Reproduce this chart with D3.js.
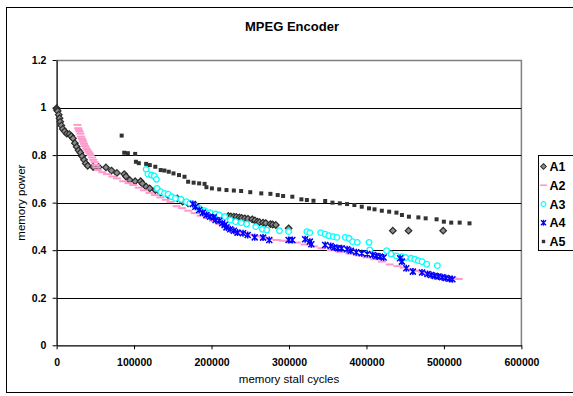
<!DOCTYPE html>
<html>
<head>
<meta charset="utf-8">
<script src="https://cdn.jsdelivr.net/npm/d3@7"></script>
<style>
  body { margin: 0; background: #fff; }
  svg { display: block; font-family: "Liberation Sans", Arial, sans-serif; }
</style>
</head>
<body>
<svg id="chart"></svg>
<script>
// series values: [memory stall cycles, memory power]
const seriesNames = ["A1", "A2", "A3", "A4", "A5"];

const a1 = [[0,0.997],[500,0.99],[1400,0.985],[2800,0.97],[3800,0.955],[4700,0.94],[6100,0.925],[8000,0.91],
  [10400,0.9],[13200,0.89],[16500,0.888],[18900,0.88],[21200,0.87],[23600,0.85],[25900,0.835],[28300,0.82],
  [30700,0.81],[33000,0.795],[35400,0.78],[37700,0.765],[40100,0.755],[47200,0.75],[54200,0.75],[63700,0.748],
  [70800,0.735],[77800,0.725],[87300,0.72],[89600,0.71],[94300,0.695],[101400,0.69],[108500,0.69],[110800,0.68],
  [115600,0.667],[120300,0.66],[127400,0.653],[134400,0.642],[143900,0.632],[155700,0.618],[162700,0.604],
  [169800,0.597],[179200,0.59],[184000,0.576],[221700,0.544],[225000,0.542],[228800,0.541],[232000,0.54],
  [235900,0.538],[239000,0.536],[242900,0.534],[247000,0.532],[252400,0.53],[256000,0.525],[259400,0.52],
  [262000,0.518],[266500,0.516],[270000,0.514],[276000,0.51],[279000,0.508],[283000,0.506],[299500,0.492],
  [434000,0.482],[454300,0.482],[499000,0.482]];

const a2 = [[26900,0.927],[27800,0.913],[28800,0.905],[29700,0.899],[30700,0.89],[31600,0.878],[32500,0.87],
  [33500,0.864],[34400,0.856],[35400,0.847],[36800,0.838],[38200,0.829],[39600,0.822],[41000,0.815],[42500,0.808],
  [43900,0.8],[45800,0.79],[47200,0.78],[49000,0.77],[50500,0.758],[51900,0.748],[53300,0.737],[59000,0.728],
  [65000,0.72],[72000,0.71],[78000,0.702],[86000,0.69],[93000,0.682],[99000,0.674],[106000,0.663],[113000,0.652],
  [120000,0.641],[127000,0.632],[134000,0.622],[141000,0.612],[147000,0.603],[155000,0.585],[162000,0.577],
  [170000,0.566],[178000,0.556],[186000,0.545],[194000,0.535],[202000,0.523],[210000,0.51],[218000,0.497],
  [226000,0.485],[234000,0.476],[242000,0.47],[250000,0.465],[258000,0.459],[266000,0.454],[275000,0.447],
  [284000,0.443],[292000,0.44],[300000,0.436],[310000,0.432],[320000,0.424],[332000,0.416],[342000,0.408],
  [354000,0.4],[366000,0.393],[378000,0.386],[390000,0.378],[400000,0.37],[410000,0.362],[420000,0.352],
  [430000,0.34],[440000,0.333],[448000,0.327],[456000,0.32],[464000,0.313],[472000,0.307],[480000,0.3],
  [488000,0.295],[496000,0.29],[504000,0.286],[512000,0.282],[519000,0.279]];

const a3 = [[115600,0.74],[117900,0.72],[122600,0.716],[126000,0.712],[128800,0.698],[129700,0.66],[134400,0.646],
  [139200,0.639],[143900,0.636],[148600,0.625],[153300,0.618],[160400,0.614],[167500,0.604],[172200,0.597],
  [179200,0.586],[184000,0.576],[191000,0.566],[198100,0.558],[205200,0.552],[209900,0.548],[217000,0.541],
  [224100,0.527],[231100,0.52],[238200,0.516],[245300,0.51],[257100,0.499],[265600,0.488],[271200,0.485],
  [287700,0.482],[299500,0.478],[323100,0.478],[326900,0.474],[341000,0.474],[346700,0.467],[351400,0.461],
  [357100,0.457],[361800,0.454],[372600,0.454],[377400,0.45],[382100,0.436],[388200,0.433],[403300,0.433],
  [404200,0.401],[425900,0.398],[431600,0.384],[438700,0.376],[445800,0.373],[450500,0.369],[457500,0.366],
  [462300,0.362],[467000,0.356],[471700,0.352],[477800,0.341],[491500,0.335]];

const a4 = [[175900,0.594],[179200,0.583],[184000,0.569],[188700,0.558],[193400,0.548],[198100,0.541],
  [202800,0.538],[205200,0.527],[209900,0.524],[213700,0.513],[217000,0.506],[219300,0.496],[224100,0.488],
  [228800,0.482],[233500,0.474],[240600,0.471],[246700,0.464],[255700,0.454],[266500,0.453],[274500,0.443],
  [299500,0.443],[304300,0.443],[320800,0.446],[326900,0.436],[328800,0.425],[346700,0.422],[353800,0.418],
  [358500,0.411],[363200,0.408],[367900,0.408],[375000,0.404],[379800,0.398],[386800,0.391],[393900,0.387],
  [401000,0.384],[408100,0.38],[412800,0.376],[417500,0.373],[422200,0.369],[443400,0.366],[445800,0.352],
  [451400,0.324],[459900,0.31],[471700,0.306],[478800,0.3],[483500,0.296],[488200,0.292],[492900,0.289],
  [497700,0.286],[502400,0.283],[507100,0.28],[510900,0.278]];

const a5 = [[84000,0.882],[87300,0.81],[92000,0.808],[101400,0.805],[102400,0.772],[106100,0.766],[115600,0.763],
  [120300,0.758],[127400,0.751],[134400,0.737],[139200,0.735],[144800,0.73],[150900,0.723],[158000,0.716],
  [165100,0.709],[169800,0.688],[176900,0.684],[184000,0.681],[191000,0.679],[193400,0.665],[200500,0.66],
  [209900,0.656],[219300,0.653],[228800,0.651],[238200,0.649],[250000,0.644],[264200,0.639],[276000,0.637],
  [285400,0.632],[292400,0.628],[304300,0.625],[316000,0.614],[323100,0.611],[331600,0.608],[346700,0.607],
  [356100,0.6],[365600,0.597],[375000,0.594],[384400,0.59],[393900,0.583],[403300,0.576],[410400,0.572],
  [419800,0.566],[429300,0.562],[438700,0.558],[445800,0.548],[454800,0.541],[467000,0.538],[476400,0.534],
  [490500,0.53],[499900,0.52],[509400,0.516],[520300,0.516],[533000,0.513]];

const xTicks = [0, 100000, 200000, 300000, 400000, 500000, 600000];
const yTicks = [0, 0.2, 0.4, 0.6, 0.8, 1, 1.2];

const width = 573, height = 396;
const plot = { left: 56.6, right: 521.4, top: 60, bottom: 345.3 };

const svg = d3.select("#chart").attr("width", width).attr("height", height);

const x = d3.scaleLinear().domain([0, 600000]).range([plot.left, plot.right]);
const y = d3.scaleLinear().domain([0, 1.2]).range([plot.bottom, plot.top]);

// outer chart border (right edge runs off the picture)
svg.append("rect")
  .attr("x", 6.5).attr("y", 7.5).attr("width", 600).attr("height", 385)
  .attr("fill", "#fff").attr("stroke", "#000").attr("stroke-width", 1);

// title
svg.append("text")
  .attr("x", 292).attr("y", 31).attr("text-anchor", "middle")
  .attr("font-size", 13).attr("font-weight", "bold")
  .text("MPEG Encoder");

// plot border, top and right in grey
svg.append("path")
  .attr("d", `M${plot.left},${plot.top + 0.5}H${plot.right}V${plot.bottom}`)
  .attr("fill", "none").attr("stroke", "#808080").attr("stroke-width", 1.5);

// gridlines
svg.append("g")
  .selectAll("line")
  .data(yTicks.filter(d => d > 0 && d < 1.2))
  .join("line")
  .attr("x1", plot.left).attr("x2", plot.right)
  .attr("y1", d => Math.round(y(d)) + 0.5).attr("y2", d => Math.round(y(d)) + 0.5)
  .attr("stroke", "#000").attr("stroke-width", 1);

// axes
const xAxis = svg.append("g")
  .attr("transform", `translate(0,${plot.bottom})`)
  .call(d3.axisBottom(x).tickValues(xTicks).tickSize(4).tickSizeOuter(0).tickFormat(d3.format("d")));
const yAxis = svg.append("g")
  .attr("transform", `translate(${plot.left},0)`)
  .call(d3.axisLeft(y).tickValues(yTicks).tickSize(4).tickSizeOuter(0).tickFormat(d => String(+d.toFixed(1))));

[xAxis, yAxis].forEach(g => {
  g.select(".domain").attr("stroke", "#000").attr("stroke-width", 1.3);
  g.selectAll(".tick line").attr("stroke", "#000");
  g.selectAll("text")
    .attr("font-family", '"Liberation Sans", Arial, sans-serif')
    .attr("font-size", 10.5).attr("font-weight", "bold").attr("fill", "#000");
});
xAxis.selectAll("text").attr("dy", "1.35em");
yAxis.selectAll("text").attr("dx", "-0.3em");

// axis titles
svg.append("text")
  .attr("x", 289).attr("y", 383).attr("text-anchor", "middle")
  .attr("font-size", 11.5).text("memory stall cycles");
svg.append("text")
  .attr("transform", `translate(25,${(plot.top + plot.bottom) / 2}) rotate(-90)`)
  .attr("text-anchor", "middle").attr("font-size", 11.5).text("memory power");

// markers
const markers = {
  A1: g => g.append("path").attr("d", "M0,-3.3L3.3,0L0,3.3L-3.3,0Z")
    .attr("fill", "#8c8c8c").attr("stroke", "#2a2a2a").attr("stroke-width", 1.2),
  A2: g => g.append("rect").attr("x", -4).attr("y", -1).attr("width", 8).attr("height", 2)
    .attr("fill", "#ff99cc"),
  A3: g => g.append("circle").attr("r", 2.8)
    .attr("fill", "#fff").attr("stroke", "#00ffff").attr("stroke-width", 1.3),
  A4: g => g.append("path").attr("d", "M-3,-3L3,3M-3,3L3,-3M0,-3.5V3.5")
    .attr("fill", "none").attr("stroke", "#0000ff").attr("stroke-width", 1.5),
  A5: g => g.append("rect").attr("x", -2).attr("y", -2).attr("width", 4).attr("height", 4)
    .attr("fill", "#333")
};

const allSeries = [a1, a2, a3, a4, a5];
allSeries.forEach((data, i) => {
  const name = seriesNames[i];
  svg.append("g").attr("class", "series-" + name)
    .selectAll("g")
    .data(data)
    .join("g")
    .attr("transform", d => `translate(${x(d[0])},${y(d[1])})`)
    .each(function() { markers[name](d3.select(this)); });
});

// legend
const legend = svg.append("g").attr("transform", "translate(538.5,155.5)");
legend.append("rect")
  .attr("width", 60).attr("height", 95)
  .attr("fill", "#fff").attr("stroke", "#000").attr("stroke-width", 1);
const legendY = d3.scalePoint().domain(seriesNames).range([11, 86]);
seriesNames.forEach(name => {
  const item = legend.append("g").attr("transform", `translate(0,${legendY(name)})`);
  const m = item.append("g").attr("transform", "translate(5,0) scale(0.85)");
  markers[name](m);
  item.append("text")
    .attr("x", 11).attr("dy", "0.36em")
    .attr("font-size", 12.5).attr("font-weight", "bold")
    .text(name);
});
</script>
</body>
</html>
